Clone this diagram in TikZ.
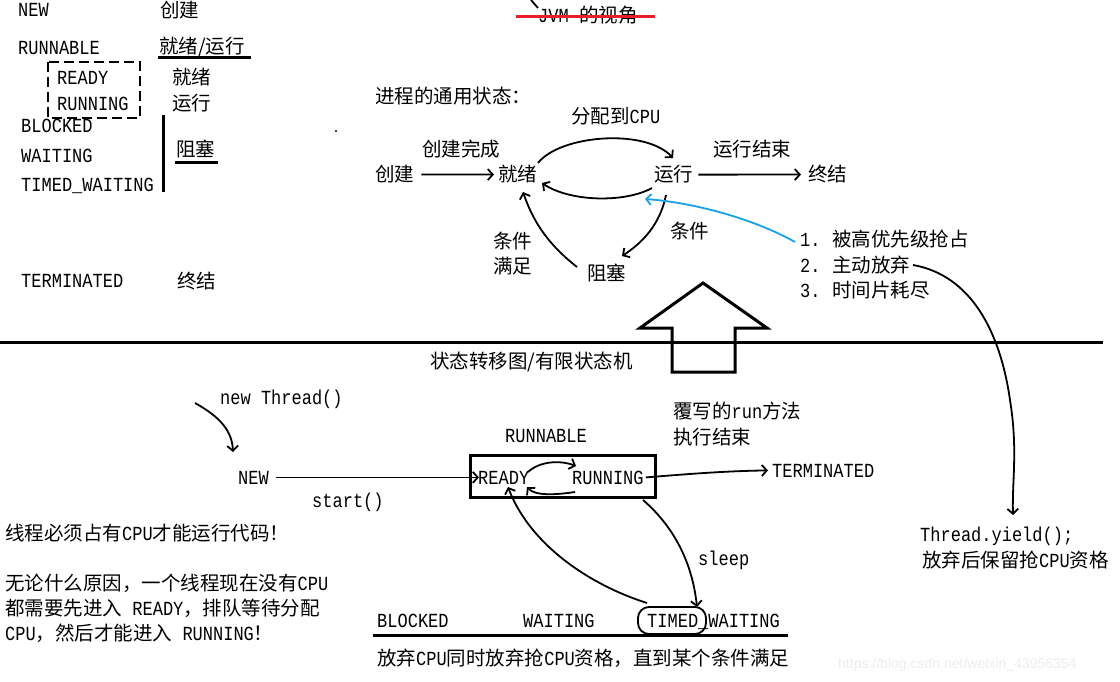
\documentclass[tikz,border=0pt]{standalone}
\usepackage{fontspec}
\setmainfont{Liberation Mono}[FakeStretch=0.85]
\newfontfamily\cjkf{Noto Sans CJK SC}
\newfontfamily\wmf{Liberation Sans}
\usetikzlibrary{arrows.meta}
\definecolor{skyb}{RGB}{25,160,230}
\definecolor{redl}{RGB}{232,30,40}
\newcommand\zh[1]{{\fontsize{19.5}{22}\selectfont\cjkf #1}}
\tikzset{
  t/.style={anchor=base west, inner sep=0pt, font=\fontsize{20}{24}\selectfont},
  arr/.style={-{Straight Barb[length=5pt,width=11pt]}, line width=1.8pt},
  bold/.style={line width=3pt},
  curve/.style={line width=1.8pt},
}
\begin{document}
\begin{tikzpicture}[x=1pt,y=-1pt]
\fill[white] (0,0) rectangle (1120,682);
\useasboundingbox (0,0) rectangle (1120,682);

% ---------- top left legend ----------
\node[t] (lnew) at (18,17) {NEW};
\node[t] (lnewc) at (160,18) {\zh{创建}};
\node[t] (lrun) at (18,55) {RUNNABLE};
\node[t] (lrunc) at (159,54) {\zh{就绪/运行}};
\draw[bold] (158,58) -- (251,58);
\node[t] (lready) at (57,85) {READY};
\node[t] (lreadyc) at (172,85) {\zh{就绪}};
\node[t] (lrunning) at (57,111) {RUNNING};
\node[t] (lrunningc) at (172,111) {\zh{运行}};
\draw[dashed, dash pattern=on 10pt off 5pt, line width=1.8pt] (48,62) rectangle (140,118);
\node[t] (lblk) at (21,133) {BLOCKED};
\node[t] (lwait) at (21,163) {WAITING};
\node[t] (ltw) at (21,192) {TIMED\_WAITING};
\draw[bold] (163,115) -- (163,192);
\node[t] (lblkc) at (176,157) {\zh{阻塞}};
\draw[bold] (175,163) -- (218,163);
\node[t] (lterm) at (21,287) {TERMINATED};
\node[t] (ltermc) at (177,288) {\zh{终结}};
\fill (336,131) circle (1.2pt);

% ---------- JVM title ----------
\node[t] (jvm) at (538,23) {JVM \zh{的视角}};
\draw[redl, bold] (516,17) -- (655,17);
\draw[curve] (531,0) -- (538,8);

% ---------- process states ----------
\node[t] (ptitle) at (375,104) {\zh{进程的通用状态：}};
\node[t] (pcpu) at (571,124) {\zh{分配到}CPU};
\node[t] (pcdone) at (422,157) {\zh{创建完成}};
\node[t] (pcreate) at (375,182) {\zh{创建}};
\node[t] (pready) at (498,182) {\zh{就绪}};
\node[t] (prun) at (654,182) {\zh{运行}};
\node[t] (pend) at (713,157) {\zh{运行结束}};
\node[t] (pterm) at (808,182) {\zh{终结}};
\node[t] (pcond) at (670,239) {\zh{条件}};
\node[t] (pok1) at (493,248) {\zh{条件}};
\node[t] (pok2) at (493,273) {\zh{满足}};
\node[t] (pblk) at (587,280) {\zh{阻塞}};
\node[t] (n1) at (800,246) {1.};
\node[t] (r1) at (832,246) {\zh{被高优先级抢占}};
\node[t] (n2) at (800,272) {2.};
\node[t] (r2) at (832,272) {\zh{主动放弃}};
\node[t] (n3) at (800,297) {3.};
\node[t] (r3) at (832,297) {\zh{时间片耗尽}};

\draw[arr] ([xshift=7pt]pcreate.east) -- ([xshift=-4pt]pready.west);
\draw[arr] ([xshift=5pt]prun.east) -- ([xshift=-7pt]pterm.west);
\coordinate (a1) at (538,163);
\coordinate (a2) at (673,158);
\draw[arr] (a1) .. controls (560,135) and (645,128) .. (a2);
\coordinate (b1) at (652,188);
\coordinate (b2) at (542,183);
\draw[arr] (b1) .. controls (625,203) and (570,202) .. (b2);
\coordinate (c1) at (577,267);
\coordinate (c2) at (523,192);
\draw[arr] (c1) .. controls (545,242) and (532,218) .. (c2);
\coordinate (d1) at (666,195);
\coordinate (d2) at (622,256);
\draw[arr] (d1) .. controls (660,225) and (642,243) .. (d2);
\coordinate (e1) at (795,242);
\coordinate (e2) at (645,199);
\draw[arr, skyb] (e1) .. controls (760,222) and (700,203) .. (e2);
\coordinate (f1) at (913,265);
\coordinate (f2) at (1013,515);
\coordinate (fm) at (1010,400);
\draw[curve] (f1) .. controls (970,275) and (1000,330) .. (fm);
\draw[arr] (fm) .. controls (1018,450) and (1012,480) .. (f2);

\node[t] (yield) at (920,541) {Thread.yield();};
\node[t] (yieldc) at (922,567) {\zh{放弃后保留抢}CPU\zh{资格}};

% ---------- divider and big arrow ----------
\draw[bold] (0,342) -- (1103,342);
\draw[bold, line join=miter] (672,372) -- (672,328) -- (640,328) -- (703,283) -- (767,328) -- (735,328) -- (735,372) -- cycle;
\node[t] (fsm) at (430,368) {\zh{状态转移图/有限状态机}};

% ---------- thread states ----------
\node[t] (newth) at (220,404) {new Thread()};
\node[t] (tnew) at (238,484) {NEW};
\node[t] (start) at (312,507) {start()};
\node[t] (trunnable) at (505,442) {RUNNABLE};
\node[draw, bold, inner sep=0pt, minimum width=185pt, minimum height=42pt] (box) at (562.5,476) {};
\node[t] (tready) at (478,484) {READY};
\node[t] (trunning) at (572,484) {RUNNING};
\node[t] (over1) at (673,418) {\zh{覆写的}run\zh{方法}};
\node[t] (over2) at (673,444) {\zh{执行结束}};
\node[t] (tterm) at (772,477) {TERMINATED};
\node[t] (sleep) at (698,565) {sleep};
\node[t] (bblk) at (377,627) {BLOCKED};
\node[t] (bwait) at (523,627) {WAITING};
\node[t] (btw) at (647,627) {TIMED\_WAITING};
\draw[bold] (373,635) -- (788,635);
\node[t] (bnote) at (377,665) {\zh{放弃}CPU\zh{同时放弃抢}CPU\zh{资格，直到某个条件满足}};
\draw[curve, rounded corners=11pt] (638,607) rectangle (706,634);

\coordinate (g1) at (195,403);
\coordinate (g2) at (233,452);
\draw[arr] (g1) .. controls (222,418) and (232,432) .. (g2);
\draw[arr] ([xshift=7pt]tnew.east) -- ([xshift=1pt]tready.west);
\coordinate (h1) at (528,472);
\coordinate (h2) at (576,466);
\draw[arr] (h1) .. controls (540,461) and (560,460) .. (h2);
\coordinate (i1) at (575,492);
\coordinate (i2) at (527,487);
\draw[arr] (i1) .. controls (555,495) and (535,496) .. (i2);
\draw[arr] ([xshift=2pt]trunning.east) .. controls (700,473) and (730,471) .. ([xshift=-4pt]tterm.west);
\coordinate (j1) at (643,500);
\coordinate (j2) at (697,607);
\draw[arr] (j1) .. controls (672,525) and (692,560) .. (j2);
\coordinate (k1) at (647,603);
\coordinate (k2) at (508,487);
\draw[arr] (k1) .. controls (590,585) and (530,545) .. (k2);

% ---------- left notes ----------
\node[t] (m1) at (5,540) {\zh{线程必须占有}CPU\zh{才能运行代码！}};
\node[t] (m2) at (5,590) {\zh{无论什么原因，一个线程现在没有}CPU};
\node[t] (m3) at (5,615) {\zh{都需要先进入} READY\zh{，排队等待分配}};
\node[t] (m4) at (5,640) {CPU\zh{，然后才能进入} RUNNING\zh{！}};

% ---------- watermark ----------
\node[anchor=base west, inner sep=0pt, font=\wmf\fontsize{14}{16}\selectfont, text=black!7] (wm) at (838,668) {https://blog.csdn.net/weixin\_43956354};
\end{tikzpicture}
\end{document}
